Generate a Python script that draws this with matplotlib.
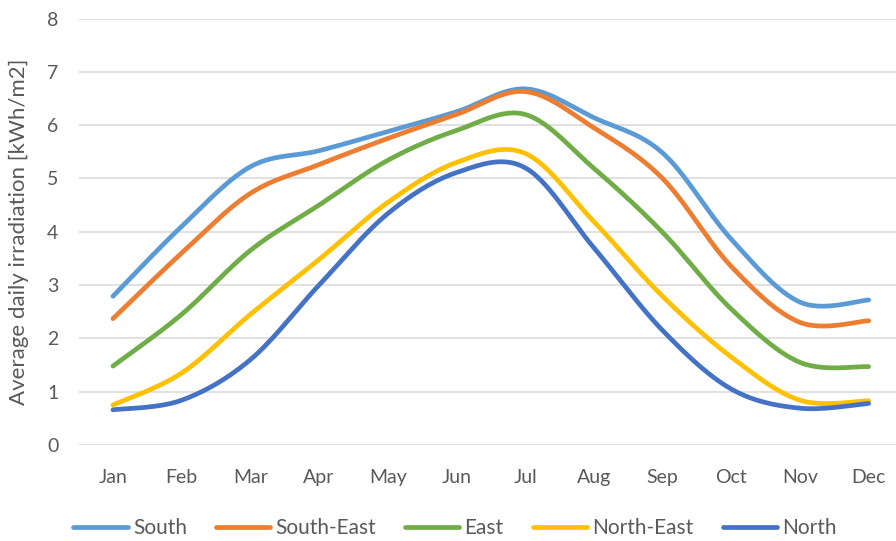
import matplotlib.pyplot as plt
import numpy as np

plt.rcParams['font.family'] = ['Lato', 'DejaVu Sans']

months = ['Jan', 'Feb', 'Mar', 'Apr', 'May', 'Jun',
          'Jul', 'Aug', 'Sep', 'Oct', 'Nov', 'Dec']

south = [2.79, 4.10, 5.22, 5.52, 5.88, 6.25, 6.68, 6.14, 5.48, 3.86, 2.68, 2.72]
south_east = [2.37, 3.60, 4.72, 5.26, 5.75, 6.20, 6.63, 5.95, 5.00, 3.35, 2.30, 2.33]
east = [1.48, 2.45, 3.65, 4.50, 5.34, 5.90, 6.20, 5.19, 3.99, 2.55, 1.55, 1.47]
north_east = [0.75, 1.35, 2.45, 3.48, 4.55, 5.30, 5.47, 4.19, 2.79, 1.65, 0.84, 0.83]
north = [0.66, 0.84, 1.60, 3.00, 4.34, 5.11, 5.20, 3.70, 2.15, 1.05, 0.69, 0.78]

series = [
    ('South', south, '#5B9BD5'),
    ('South-East', south_east, '#ED7D31'),
    ('East', east, '#70AD47'),
    ('North-East', north_east, '#FFC000'),
    ('North', north, '#4472C4'),
]


def smooth(y, n=30):
    # Bezier smoothing like a spreadsheet "smoothed line"
    y = np.asarray(y, dtype=float)
    x = np.arange(len(y), dtype=float)
    px = np.concatenate([[x[0]], x, [x[-1]]])
    py = np.concatenate([[y[0]], y, [y[-1]]])
    xs, ys = [], []
    t = np.linspace(0, 1, n)
    for i in range(1, len(px) - 2):
        p0x, p0y = px[i], py[i]
        p3x, p3y = px[i + 1], py[i + 1]
        c1x = p0x + (px[i + 1] - px[i - 1]) / 6
        c1y = p0y + (py[i + 1] - py[i - 1]) / 6
        c2x = p3x - (px[i + 2] - px[i]) / 6
        c2y = p3y - (py[i + 2] - py[i]) / 6
        a = (1 - t) ** 3
        b = 3 * (1 - t) ** 2 * t
        c = 3 * (1 - t) * t ** 2
        d = t ** 3
        xs.append(a * p0x + b * c1x + c * c2x + d * p3x)
        ys.append(a * p0y + b * c1y + c * c2y + d * p3y)
    return np.concatenate(xs), np.concatenate(ys)


W, H = 896, 541
fig = plt.figure(figsize=(W / 100, H / 100), dpi=100)
left, right = 78.6, 896
bottom, top = 445, 18.5
ax = fig.add_axes([left / W, 1 - bottom / H, (right - left) / W, (bottom - top) / H])

for name, vals, col in series:
    sx, sy = smooth(vals)
    ax.plot(sx, sy, color=col, lw=3.4, solid_capstyle='round', label=name, clip_on=False)

step = 68.7
ax.set_xlim(-0.5, (right - left) / step - 0.5)
ax.set_ylim(0, 8)
ax.set_xticks(range(len(months)))
ax.set_xticklabels(months)
ax.set_yticks(range(0, 9))

for s in ax.spines.values():
    s.set_visible(False)
ax.grid(axis='y', color='#D9D9D9', lw=1.1)
ax.set_axisbelow(True)
ax.tick_params(axis='both', length=0, labelsize=14, colors='#595959')
ax.tick_params(axis='x', pad=17)
ax.tick_params(axis='y', pad=14.5)
ax.set_ylabel('Average daily irradiation [kWh/m2]', fontsize=16, color='#595959')
ax.yaxis.set_label_coords(-(left - 29) / (right - left), 0.5)

fig.legend(loc='center', bbox_to_anchor=(455 / W, 1 - 528 / H), ncol=5, frameon=False,
           fontsize=15, labelcolor='#595959', handlelength=2.6, handletextpad=0.25,
           columnspacing=1.4)

fig.savefig('out.png', dpi=100)
